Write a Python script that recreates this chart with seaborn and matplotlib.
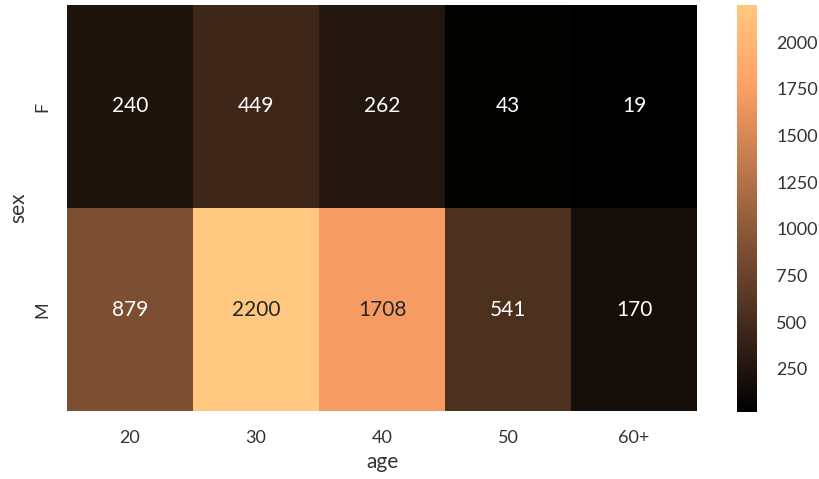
import pandas as pd
import seaborn as sns
import matplotlib.pyplot as plt

# Dados da tabela (contagem por sexo e faixa etária)
sexes = ['F', 'M']
ages = ['20', '30', '40', '50', '60+']
counts_f = [240, 449, 262, 43, 19]
counts_m = [879, 2200, 1708, 541, 170]

df = pd.DataFrame([counts_f, counts_m], index=pd.Index(sexes, name='sex'),
                  columns=pd.Index(ages, name='age'))

sns.set_theme(style='white')
plt.rcParams['font.family'] = ['Lato', 'DejaVu Sans']
plt.rcParams['text.color'] = '#333333'
plt.rcParams['axes.labelcolor'] = '#333333'
plt.rcParams['xtick.color'] = '#333333'
plt.rcParams['ytick.color'] = '#333333'

fig = plt.figure(figsize=(8.19, 4.79), dpi=100)
ax = fig.add_axes([67 / 819, 1 - 411 / 479, 630 / 819, 406 / 479])
cax = fig.add_axes([737 / 819, 1 - 412 / 479, 20 / 819, 407 / 479])

sns.heatmap(df, ax=ax, cbar_ax=cax, cmap='copper', annot=True, fmt='d',
            annot_kws={'fontsize': 15})

ax.set_xlabel('age', fontsize=15)
ax.set_ylabel('sex', fontsize=15)
ax.tick_params(axis='both', length=0, labelsize=13, pad=14)
ax.tick_params(axis='y', pad=12)
cax.tick_params(length=0, labelsize=13, pad=14)
cax.set_yticks([250, 500, 750, 1000, 1250, 1500, 1750, 2000])
for spine in cax.spines.values():
    spine.set_visible(False)

fig.savefig('out.png', dpi=100)
